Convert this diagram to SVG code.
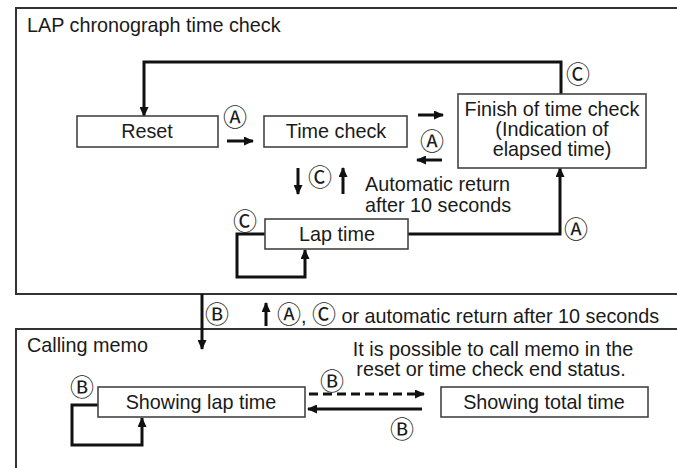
<svg xmlns="http://www.w3.org/2000/svg" width="677" height="468" viewBox="0 0 677 468">
<style>
.panel{fill:none;stroke:#333;stroke-width:2}
.box{fill:#fff;stroke:#444;stroke-width:1.6}
.t{font-family:"Liberation Sans",Arial,sans-serif;font-size:19.8px;fill:#1a1a1a}
.c{font-family:"DejaVu Sans","Noto Sans CJK JP",sans-serif;font-size:24px;fill:#1a1a1a;text-anchor:middle}
.m{text-anchor:middle}
.ar{fill:none;stroke:#111;stroke-width:3;marker-end:url(#ah)}
</style>
<defs>
<marker id="ah" markerUnits="userSpaceOnUse" markerWidth="10" markerHeight="9" refX="9" refY="4.5" orient="auto">
<path d="M0,0 L10,4.5 L0,9 z" fill="#111"/>
</marker>
</defs>
<rect width="677" height="468" fill="#fff"/>
<g id="panel-top">
<rect class="panel" x="16" y="8" width="700" height="286"/>
<text class="t" x="27" y="32">LAP chronograph time check</text>
</g>
<g id="panel-bottom">
<rect class="panel" x="16" y="329" width="700" height="160"/>
<text class="t" x="27" y="352">Calling memo</text>
</g>
<g id="connectors">
<path class="ar" d="M561,94 V62 H144 V116"/>
<path class="ar" d="M227,141 H253"/>
<path class="ar" d="M418,115 H443"/>
<path class="ar" d="M442,160 H417"/>
<path class="ar" d="M298,168 V194"/>
<path class="ar" d="M343,194 V168"/>
<path class="ar" d="M408,234 H560 V168"/>
<path class="ar" d="M265,234 H237 V277 H305 V250"/>
<path class="ar" d="M202,294 V349"/>
<path class="ar" d="M266,326 V303"/>
<path class="ar" d="M309,394 H424" stroke-dasharray="9,5"/>
<path class="ar" d="M422,409 H308"/>
<path class="ar" d="M98,405 H72 V445 H142 V418"/>
<text class="c" x="578" y="83">Ⓒ</text>
<text class="c" x="235" y="126">Ⓐ</text>
<text class="c" x="432" y="150">Ⓐ</text>
<text class="c" x="320" y="186">Ⓒ</text>
<text class="t" x="365" y="191">Automatic return</text>
<text class="t" x="365" y="212">after 10 seconds</text>
<text class="c" x="245" y="230">Ⓒ</text>
<text class="c" x="576" y="238">Ⓐ</text>
<text class="c" x="217" y="323">Ⓑ</text>
<text class="t" x="277" y="323"><tspan class="c" style="text-anchor:start">Ⓐ</tspan>, <tspan class="c" style="text-anchor:start">Ⓒ</tspan> or automatic return after 10 seconds</text>
<text class="t m" x="493" y="356">It is possible to call memo in the</text>
<text class="t m" x="491" y="376">reset or time check end status.</text>
<text class="c" x="332" y="390">Ⓑ</text>
<text class="c" x="402" y="438">Ⓑ</text>
<text class="c" x="82" y="396">Ⓑ</text>
</g>
<g id="node-reset">
<rect class="box" x="77" y="116" width="141" height="31"/>
<text class="t m" x="147" y="138">Reset</text>
</g>
<g id="node-timecheck">
<rect class="box" x="264" y="116" width="143" height="31"/>
<text class="t m" x="336" y="138">Time check</text>
</g>
<g id="node-finish">
<rect class="box" x="458" y="94" width="188" height="74"/>
<text class="t m" x="552" y="116">Finish of time check</text>
<text class="t m" x="552" y="136">(Indication of</text>
<text class="t m" x="552" y="156">elapsed time)</text>
</g>
<g id="node-laptime">
<rect class="box" x="265" y="219" width="143" height="30"/>
<text class="t m" x="337" y="241">Lap time</text>
</g>
<g id="node-showlap">
<rect class="box" x="98" y="387" width="207" height="30"/>
<text class="t m" x="201" y="409">Showing lap time</text>
</g>
<g id="node-showtotal">
<rect class="box" x="441" y="387" width="207" height="30"/>
<text class="t m" x="544" y="409">Showing total time</text>
</g>
</svg>
